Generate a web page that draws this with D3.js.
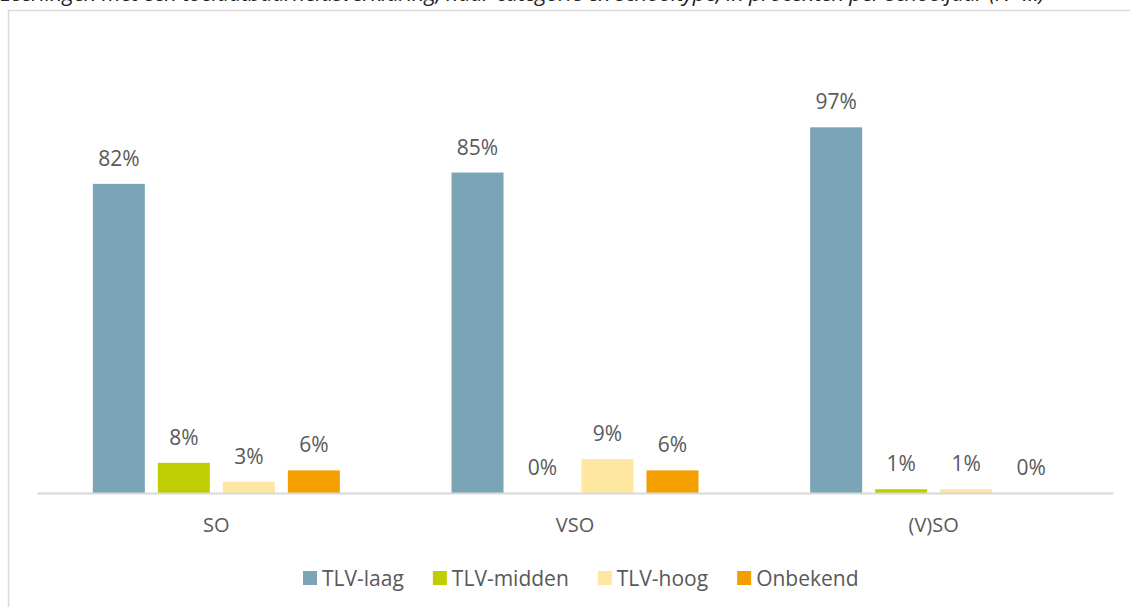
<!DOCTYPE html>
<meta charset="utf-8">
<style>
	body { margin: 0; background: #fff; }
	svg { font-family: "Open Sans", sans-serif; }
	.label { fill: #595959; font-size: 21px; }
	.cat { fill: #595959; font-size: 20px; }
	.legend text { fill: #595959; font-size: 21px; }
	.caption { fill: #222; font-size: 22px; font-style: italic; }
</style>
<script src="https://d3js.org/d3.v7.min.js"></script>
<svg width="1130" height="607" class="chart"></svg>
<script>

	var categories = ["SO", "VSO", "(V)SO"];
	var series = ["TLV-laag", "TLV-midden", "TLV-hoog", "Onbekend"];
	var colors = ["#7BA4B6", "#BFCE00", "#FEE7A0", "#F49F00"];

	// percentages per category, in series order
	var tlvLaag = [82, 85, 97];
	var tlvMidden = [8, 0, 1];
	var tlvHoog = [3, 9, 1];
	var onbekend = [6, 6, 0];

	var values = [tlvLaag, tlvMidden, tlvHoog, onbekend];

	var data = [];
	for (var c = 0; c < categories.length; c++) {
		for (var s = 0; s < series.length; s++) {
			data.push({cat: categories[c], serie: series[s], value: values[s][c]});
		}
	}

	var svg = d3.select(".chart");

	// caption above the chart, cut off at the top
	svg.append("text")
		.attr("class", "caption")
		.attr("x", 0)
		.attr("y", 1)
		.attr("textLength", 1045)
		.text("Leerlingen met een toelaatbaarheidsverklaring, naar categorie en schooltype, in procenten per schooljaar (N=…)");

	// chart area border
	svg.append("rect")
		.attr("x", 8.5)
		.attr("y", 10.5)
		.attr("width", 1140)
		.attr("height", 620)
		.attr("fill", "none")
		.attr("stroke", "#d9d9d9")
		.attr("stroke-width", 1.5);

	var x0 = d3.scaleBand()
		.domain(categories)
		.range([37, 1113]);

	var groupWidth = 247;
	var x1 = d3.scaleBand()
		.domain(series)
		.range([(x0.bandwidth() - groupWidth) / 2, (x0.bandwidth() + groupWidth) / 2])
		.paddingInner(0.2);

	var y = d3.scaleLinear()
		.domain([0, 100])
		.range([493, 116]);

	var color = d3.scaleOrdinal().domain(series).range(colors);

	var g = svg.append("g");

	g.selectAll("rect.bar")
		.data(data)
		.enter().append("rect")
			.attr("class", "bar")
			.attr("x", function(d) { return x0(d.cat) + x1(d.serie); })
			.attr("y", function(d) { return y(d.value); })
			.attr("width", x1.bandwidth())
			.attr("height", function(d) { return y(0) - y(d.value); })
			.attr("fill", function(d) { return color(d.serie); });

	g.selectAll("text.label")
		.data(data)
		.enter().append("text")
			.attr("class", "label")
			.attr("x", function(d) { return x0(d.cat) + x1(d.serie) + x1.bandwidth() / 2; })
			.attr("y", function(d) { return y(d.value) - 18; })
			.attr("text-anchor", "middle")
			.text(function(d) { return d.value + "%"; });

	// x axis
	var axis = svg.append("g")
		.attr("transform", "translate(0," + y(0) + ")")
		.call(d3.axisBottom(x0).tickSize(0).tickPadding(0));
	axis.select(".domain").attr("stroke", "#d9d9d9").attr("stroke-width", 2);
	axis.selectAll(".tick text")
		.attr("class", "cat")
		.attr("dy", 0)
		.attr("y", 39)
		.attr("font-size", null)
		.attr("font-family", null)
		.attr("fill", null);
	axis.attr("font-size", null).attr("font-family", null);

	// legend
	var legend = svg.append("g").attr("class", "legend");
	var lx = 303;
	series.forEach(function(name) {
		var item = legend.append("g").attr("transform", "translate(" + lx + ",0)");
		item.append("rect")
			.attr("x", 0)
			.attr("y", 571)
			.attr("width", 14)
			.attr("height", 14)
			.attr("fill", color(name));
		var t = item.append("text")
			.attr("x", 19)
			.attr("y", 586)
			.text(name);
		lx += 19 + t.node().getComputedTextLength() + 29;
	});

</script>
